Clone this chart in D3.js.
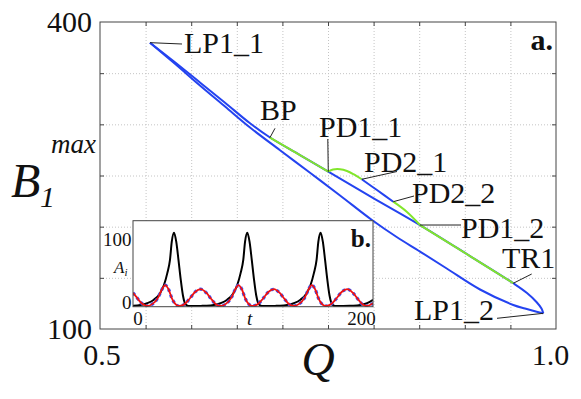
<!DOCTYPE html>
<html><head><meta charset="utf-8">
<script src="https://cdn.jsdelivr.net/npm/d3@7"></script>
<style>
body{margin:0;background:#fff;}
svg{display:block;}
</style></head><body>
<svg id="c" width="581" height="399"></svg>
<script>
// ---------- data ----------
const xTickLabels = [0.5, 1.0];
const yTickLabels = [100, 400];
const xGrid = [0.55, 0.6, 0.65, 0.7, 0.75, 0.8, 0.85, 0.9, 0.95];
const yGrid = [150, 200, 250, 300, 350];

// period-1 branch, upper side (LP1_1 -> LP1_2)
const upperQ = [0.5548, 0.5822, 0.6096, 0.6371, 0.6645, 0.6864, 0.7193, 0.7503, 0.7982, 0.8509, 0.9057, 0.9532, 0.9682, 0.9786, 0.9841, 0.9861];
const upperB = [379.8, 360.7, 340.9, 321.1, 301.0, 287.1, 270.0, 253.7, 228.7, 201.6, 171.3, 144.7, 135.2, 126.4, 120.0, 115.3];
// period-1 branch, lower side (LP1_2 -> LP1_1)
const lowerQ = [0.9861, 0.9788, 0.9660, 0.9532, 0.9167, 0.8802, 0.8509, 0.8253, 0.7982, 0.7632, 0.7303, 0.6974, 0.6645, 0.6371, 0.6096, 0.5822, 0.5548];
const lowerB = [115.3, 116.9, 120.0, 123.5, 138.6, 159.1, 175.7, 189.9, 206.5, 230.5, 252.7, 274.7, 296.9, 317.4, 338.0, 359.2, 379.8];
// stable segments (green) and period-2 loop
const greenBpQ = [0.6864, 0.7193, 0.7503];
const greenBpB = [287.1, 270.0, 253.7];
const greenPd11Q = [0.7503, 0.7555, 0.7632, 0.7708, 0.7785, 0.7870];
const greenPd11B = [253.7, 255.8, 256.1, 254.4, 251.0, 246.3];
const bluePd2Q = [0.7870, 0.8037, 0.8216];
const bluePd2B = [246.3, 235.8, 224.4];
const greenPd22Q = [0.8216, 0.8363, 0.8509];
const greenPd22B = [224.4, 214.6, 201.6];
const greenTrQ = [0.8509, 0.9057, 0.9532];
const greenTrB = [201.6, 171.3, 144.7];

// inset time series
const insetXTicks = [0, 100, 200];
const insetYTicks = [0, 100];
const blackT = [-4, 2.7, 8.7, 14.7, 20.1, 23.7, 26.7, 29.1, 30.7, 32.7, 34.7, 36.7, 38.7, 40.7, 42.2, 43.7, 45.7, 52, 58,
  62, 68.3, 74.3, 80.3, 85.7, 89.3, 92.3, 94.7, 96.3, 98.3, 100.3, 102.3, 104.3, 106.3, 107.8, 109.3, 111.3, 118, 124,
  127.6, 133.9, 139.9, 145.9, 151.3, 154.9, 157.9, 160.3, 161.9, 163.9, 165.9, 167.9, 169.9, 171.9, 173.4, 174.9, 176.9, 184, 190,
  193.2, 199.5, 205.5, 210.8];
const blackV = [0.4, 1.5, 4, 9, 18, 30, 47, 66, 92, 104.7, 92, 66, 38, 15, 5, 1.5, 0, 0, 0.2,
  0.4, 1.5, 4, 9, 18, 30, 47, 66, 92, 104.7, 92, 66, 38, 15, 5, 1.5, 0, 0, 0.2,
  0.4, 1.5, 4, 9, 18, 30, 47, 66, 92, 104.7, 92, 66, 38, 15, 5, 1.5, 0, 0, 0.2,
  0.4, 1.5, 4, 9];
const redT = [-4, -1, 3, 6, 8.5, 13.5, 18.5, 22, 24.8, 27.8, 30.8, 33.8, 36.8, 41.5, 46.5, 51.5, 56.6, 61.5, 66.5, 70.5,
  74.1, 79.1, 84.1, 87.6, 90.4, 93.4, 96.4, 99.4, 102.4, 107.1, 112.1, 117.1, 122.2, 127.1, 132.1, 136.1,
  139.7, 144.7, 149.7, 153.2, 156, 159, 162, 165, 168, 172.7, 177.7, 182.7, 187.8, 192.7, 197.7, 201.7, 205.3, 210.8];
const redV = [19, 13, 5, 1.5, 0, 3, 12, 24, 30, 24, 11, 3, 0, 2, 10, 20, 24, 19, 9, 2,
  0, 3, 12, 24, 30, 24, 11, 3, 0, 2, 10, 20, 24, 19, 9, 2,
  0, 3, 12, 24, 30, 24, 11, 3, 0, 2, 10, 20, 24, 19, 9, 2, 0, 4];
const blueT = redT;
const blueV = redV;

// annotations: label text and anchor point (data)
const annNames = ["LP1_1", "BP", "PD1_1", "PD2_1", "PD2_2", "PD1_2", "TR1", "LP1_2"];
const annQ = [0.5548, 0.6864, 0.7503, 0.7870, 0.8216, 0.8509, 0.9532, 0.9861];
const annB = [379.8, 287.1, 253.7, 246.3, 224.4, 201.6, 144.7, 115.3];

// ---------- layout ----------
const annLayout = [
  {lx: 182, ly: 44, tx: 184, ty: 53},
  {lx: 275, ly: 128.3, tx: 260, ty: 120},
  {lx: 327.8, ly: 139, tx: 319, ty: 136.5},
  {lx: 397, ly: 171.5, tx: 364, ty: 171.5},
  {lx: 414, ly: 196, tx: 412, ty: 203},
  {lx: 461, ly: 225, tx: 461, ty: 238},
  {lx: 531.7, ly: 274, tx: 502, ty: 268},
  {lx: 497, ly: 318.3, tx: 414, ty: 320}
];
const FONT = "Liberation Serif, Times New Roman, serif";
const L = 100, R = 556, T = 22, B = 329;
const BLUE = "#2443f0", GREEN = "#82e62c";

const svg = d3.select("#c");
const x = d3.scaleLinear().domain([0.5, 1.0]).range([L, R]);
const y = d3.scaleLinear().domain([100, 400]).range([B, T]);

// grid
const gx = svg.append("g").attr("transform", `translate(0,${B})`)
  .call(d3.axisBottom(x).tickValues(xGrid).tickSize(-(B - T)).tickFormat(""));
const gy = svg.append("g").attr("transform", `translate(${L},0)`)
  .call(d3.axisLeft(y).tickValues(yGrid).tickSize(-(R - L)).tickFormat(""));
[gx, gy].forEach(g => {
  g.select(".domain").remove();
  g.selectAll("line").attr("stroke", "#c4c4c4").attr("stroke-dasharray", "1,2");
});

// curves
const line = d3.line().x(d => x(d[0])).y(d => y(d[1])).curve(d3.curveCatmullRom.alpha(0.5));
const zip = (a, b) => a.map((v, i) => [v, b[i]]);
function path(qs, bs, color) {
  svg.append("path").attr("d", line(zip(qs, bs))).attr("fill", "none")
    .attr("stroke", color).attr("stroke-width", 2).attr("stroke-linejoin", "round");
}
path(upperQ, upperB, BLUE);
path(lowerQ, lowerB, BLUE);
path(bluePd2Q, bluePd2B, BLUE);
path(greenBpQ, greenBpB, GREEN);
path(greenPd11Q, greenPd11B, GREEN);
path(greenPd22Q, greenPd22B, GREEN);
path(greenTrQ, greenTrB, GREEN);

function txt(xp, yp, s, size) {
  return svg.append("text").attr("x", xp).attr("y", yp).style("font-family", FONT)
    .attr("font-size", size).attr("fill", "#111").text(s);
}

// annotations
annNames.forEach((n, i) => {
  const a = annLayout[i];
  svg.append("line").attr("x1", x(annQ[i])).attr("y1", y(annB[i]))
    .attr("x2", a.lx).attr("y2", a.ly).attr("stroke", "#222").attr("stroke-width", 1);
  txt(a.tx, a.ty, n, 30);
});
txt(553, 50, "a.", 30).attr("text-anchor", "end").attr("font-weight", "bold");

// ---------- inset ----------
const iL = 133, iR = 373, iT = 220.7, iB = 306.7;
const xi = d3.scaleLinear().domain([-4, 210.8]).range([iL, iR]);
const yi = d3.scaleLinear().domain([-1, 122]).range([iB, iT]);
svg.append("rect").attr("x", iL).attr("y", iT).attr("width", iR - iL).attr("height", iB - iT).attr("fill", "#fff");
svg.append("clipPath").attr("id", "ic").append("rect")
  .attr("x", iL).attr("y", iT).attr("width", iR - iL).attr("height", iB - iT);
const gi = svg.append("g").attr("clip-path", "url(#ic)");
const iline = d3.line().x(d => xi(d[0])).y(d => yi(d[1])).curve(d3.curveMonotoneX);
gi.append("path").attr("d", iline(zip(blackT, blackV))).attr("fill", "none").attr("stroke", "#000").attr("stroke-width", 2);
gi.append("path").attr("d", iline(zip(blueT, blueV))).attr("fill", "none").attr("stroke", "#3355ff")
  .attr("stroke-width", 3.2).attr("stroke-dasharray", "3,3");
gi.append("path").attr("d", iline(zip(redT, redV))).attr("fill", "none").attr("stroke", "#ee1111").attr("stroke-width", 1.8);
svg.append("rect").attr("x", iL).attr("y", iT).attr("width", iR - iL).attr("height", iB - iT)
  .attr("fill", "none").attr("stroke", "#444").attr("stroke-width", 1);

const ixa = svg.append("g").attr("transform", `translate(0,${iB})`)
  .call(d3.axisBottom(xi).tickValues(insetXTicks).tickSize(0).tickPadding(5)
    .tickFormat(d => d === 100 ? "t" : d));
ixa.select(".domain").remove();
ixa.selectAll("text").attr("font-size", 19).style("font-family", FONT).attr("fill", "#111")
  .attr("font-style", d => d === 100 ? "italic" : "normal");
const iya = svg.append("g").attr("transform", `translate(${iL},0)`)
  .call(d3.axisLeft(yi).tickValues(insetYTicks).tickSize(0).tickPadding(1.5));
iya.select(".domain").remove();
iya.selectAll("text").attr("font-size", 19).style("font-family", FONT).attr("fill", "#111")
  .attr("dy", d => d === 0 ? "0.12em" : "0.52em");

const ai = txt(114, 273, "", 17).attr("font-style", "italic");
ai.append("tspan").text("A");
ai.append("tspan").attr("font-size", 11).attr("dy", 3).text("i");
txt(371, 247, "b.", 25).attr("text-anchor", "end").attr("font-weight", "bold");

// ---------- frame, ticks, labels ----------
svg.append("rect").attr("x", L).attr("y", T).attr("width", R - L).attr("height", B - T)
  .attr("fill", "none").attr("stroke", "#444").attr("stroke-width", 1);
const tk = 4;
[
  [d3.axisBottom(x).tickValues(xGrid).tickSize(-tk), `translate(0,${B})`],
  [d3.axisTop(x).tickValues(xGrid).tickSize(-tk), `translate(0,${T})`],
  [d3.axisLeft(y).tickValues(yGrid).tickSize(-tk), `translate(${L},0)`],
  [d3.axisRight(y).tickValues(yGrid).tickSize(-tk), `translate(${R},0)`]
].forEach(([ax, tr]) => {
  const g = svg.append("g").attr("transform", tr).call(ax.tickFormat(""));
  g.select(".domain").remove();
  g.selectAll("line").attr("stroke", "#444");
});

const xa = svg.append("g").attr("transform", `translate(0,${B})`)
  .call(d3.axisBottom(x).tickValues(xTickLabels).tickSize(0).tickPadding(15).tickFormat(d3.format(".1f")));
xa.select(".domain").remove();
xa.selectAll("text").attr("font-size", 30).style("font-family", FONT).attr("fill", "#111")
  .attr("dx", d => d === 1.0 ? -6 : 1.5);
const ya = svg.append("g").attr("transform", `translate(${L},0)`)
  .call(d3.axisLeft(y).tickValues(yTickLabels).tickSize(0).tickPadding(8));
ya.select(".domain").remove();
ya.selectAll("text").attr("font-size", 30).style("font-family", FONT).attr("fill", "#111");

// axis titles
txt(318, 375, "Q", 46).attr("text-anchor", "middle").attr("font-style", "italic");
txt(11, 196.5, "B", 48).attr("font-style", "italic");
txt(40, 206.5, "1", 30).attr("font-style", "italic");
txt(51, 153, "max", 27).attr("font-style", "italic");
</script>
</body></html>
